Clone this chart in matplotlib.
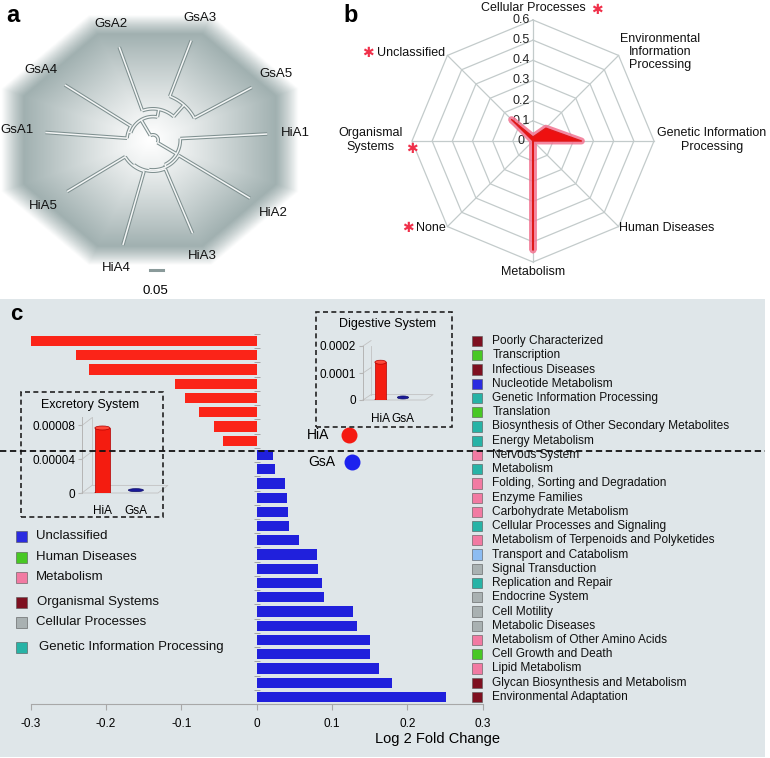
import numpy as np
import matplotlib.pyplot as plt
from matplotlib.patches import Rectangle, Ellipse
from matplotlib.lines import Line2D

plt.rcParams['font.family'] = ['Liberation Sans', 'DejaVu Sans']

W, H = 770, 758

# ---- panel a: tree (branch lengths, 0.05 = scale bar)
leaf_names = ['GsA1', 'GsA4', 'GsA2', 'GsA3', 'GsA5', 'HiA1', 'HiA2', 'HiA3', 'HiA4', 'HiA5']
leaf_angle = [176, 148, 110, 69, 28, 3, -31, -67, -106, -149]
leaf_dist = [0.415, 0.40, 0.38, 0.41, 0.43, 0.44, 0.435, 0.39, 0.42, 0.385]
tree_nodes = {
    'root': (0.02, ['gs', 'hi']),
    'gs': (0.09, ['g14', 'g235']),
    'g14': (0.10, ['GsA1', 'GsA4']),
    'g235': (0.12, ['GsA2', 'g35']),
    'g35': (0.18, ['GsA3', 'GsA5']),
    'hi': (0.105, ['HiA1', 'h2345']),
    'h2345': (0.115, ['HiA2', 'h345']),
    'h345': (0.12, ['HiA3', 'h45']),
    'h45': (0.125, ['HiA4', 'HiA5']),
}

# ---- panel b: radar
radar_cats = ['Cellular Processes', 'Environmental\nInformation\nProcessing',
              'Genetic Information\nProcessing', 'Human Diseases', 'Metabolism',
              'None', 'Organismal\nSystems', 'Unclassified']
radar_vals = [0.02, 0.09, 0.24, 0.0, 0.54, 0.0, 0.0, 0.15]
radar_sig = [True, False, False, False, False, True, True, True]
radar_ticks = [0, 0.1, 0.2, 0.3, 0.4, 0.5, 0.6]

# ---- panel c: log2 fold change
fc_names = ['Poorly Characterized', 'Transcription', 'Infectious Diseases',
            'Nucleotide Metabolism', 'Genetic Information Processing', 'Translation',
            'Biosynthesis of Other Secondary Metabolites', 'Energy Metabolism',
            'Nervous System', 'Metabolism', 'Folding, Sorting and Degradation',
            'Enzyme Families', 'Carbohydrate Metabolism', 'Cellular Processes and Signaling',
            'Metabolism of Terpenoids and Polyketides', 'Transport and Catabolism',
            'Signal Transduction', 'Replication and Repair', 'Endocrine System',
            'Cell Motility', 'Metabolic Diseases', 'Metabolism of Other Amino Acids',
            'Cell Growth and Death', 'Lipid Metabolism', 'Glycan Biosynthesis and Metabolism',
            'Environmental Adaptation']
fc_values = [-0.30, -0.24, -0.223, -0.108, -0.095, -0.077, -0.056, -0.045,
             0.022, 0.025, 0.038, 0.040, 0.041, 0.043, 0.056, 0.080, 0.081,
             0.087, 0.090, 0.128, 0.133, 0.150, 0.150, 0.163, 0.179, 0.251]
fc_group = ['org', 'hum', 'org', 'unc', 'gen', 'hum', 'gen', 'gen',
            'met', 'gen', 'met', 'met', 'met', 'gen', 'met', 'env',
            'cel', 'gen', 'cel', 'cel', 'cel', 'met', 'hum', 'met', 'org', 'org']

group_names = ['Unclassified', 'Human Diseases', 'Metabolism', 'Organismal Systems',
               'Cellular Processes', 'Genetic Information Processing']
group_keys = ['unc', 'hum', 'met', 'org', 'cel', 'gen']
group_colors = {'unc': '#2b2be0', 'hum': '#48c824', 'met': '#f27aa2', 'org': '#7e1020',
                'cel': '#a9b1b2', 'gen': '#27b3a6', 'env': '#8cbcf2'}

inset_groups = ['HiA', 'GsA']
excretory_vals = [0.000077, 0.000001]
digestive_vals = [0.00014, 0.000002]


def px_box(x0, y0, x1, y1):
    return [x0 / W, 1 - y1 / H, (x1 - x0) / W, (y1 - y0) / H]


def fpx(x, y):
    return x / W, 1 - y / H


fig = plt.figure(figsize=(W / 100, H / 100), dpi=100)

# panel c background
fig.add_artist(Rectangle(fpx(0, 757), 765 / W, 458 / H, transform=fig.transFigure,
                         facecolor='#dfe6e9', edgecolor='none', zorder=-5))

# ================= panel a
ax_a = fig.add_axes(px_box(0, 0, 345, 298))
cx, cy, sc = 153, 140, 260.0
ax_a.set_xlim(-cx / sc, (345 - cx) / sc)
ax_a.set_ylim((cy - 298) / sc, cy / sc)
ax_a.axis('off')

# soft octagon shading
gx = np.linspace(-cx / sc, (345 - cx) / sc, 400)
gy = np.linspace((cy - 298) / sc, cy / sc, 350)
XX, YY = np.meshgrid(gx, gy)
u = (XX + 0.0115) / 0.54
v = (YY - 0.0) / 0.455
nrm = np.maximum(np.maximum(np.abs(u), np.abs(v)), (np.abs(u) + np.abs(v)) / np.sqrt(2))
t = np.clip(nrm, 0, 1) ** 1.2
edge = np.array([0.58, 0.65, 0.65])
img = np.ones(XX.shape + (4,))
for k in range(3):
    img[..., k] = 1 - (1 - edge[k]) * t
img[..., 3] = np.clip((1.06 - nrm) / 0.16, 0, 1)
ax_a.imshow(img, extent=[gx[0], gx[-1], gy[0], gy[-1]], origin='lower',
            interpolation='bilinear', zorder=0)

leaf_idx = {n: i for i, n in enumerate(leaf_names)}


def node_angle(n):
    if n in leaf_idx:
        return leaf_angle[leaf_idx[n]]
    return np.mean([node_angle(c) for c in tree_nodes[n][1]])


def node_dist(n):
    if n in leaf_idx:
        return leaf_dist[leaf_idx[n]]
    return tree_nodes[n][0]


def branch(xs, ys):
    ax_a.plot(xs, ys, color='#7f9090', lw=2.6, solid_capstyle='butt', zorder=2)
    ax_a.plot(xs, ys, color='#f4f6f6', lw=1.1, solid_capstyle='butt', zorder=3)


for n, (r, kids) in tree_nodes.items():
    angs = [node_angle(c) for c in kids]
    th = np.radians(np.linspace(min(angs), max(angs), 40))
    branch(r * np.cos(th), r * np.sin(th))
    for c, a in zip(kids, angs):
        ar = np.radians(a)
        branch([r * np.cos(ar), node_dist(c) * np.cos(ar)],
               [r * np.sin(ar), node_dist(c) * np.sin(ar)])

for name, a, d in zip(leaf_names, leaf_angle, leaf_dist):
    ar = np.radians(a)
    rl = d + 0.085 + 0.025 * abs(np.cos(ar))
    ax_a.text(rl * np.cos(ar), rl * np.sin(ar), name, fontsize=9.5,
              ha='center', va='center', color='#111')

ax_a.plot([-0.0115, 0.0385], [-0.5, -0.5], color='#8a9a9a', lw=2.2)
ax_a.text(0.008, -0.581, '0.05', fontsize=9.5, ha='center', va='center')
fig.text(*fpx(13, 16), 'a', fontsize=17, fontweight='bold', ha='center', va='center')

# ================= panel b
ax_b = fig.add_axes(px_box(340, 0, 770, 298))
bx, by, bs = 533, 141, 201.7
ax_b.set_xlim((340 - bx) / bs, (770 - bx) / bs)
ax_b.set_ylim((by - 298) / bs, by / bs)
ax_b.axis('off')

th = np.radians(90 - 45 * np.arange(len(radar_cats)))
thc = np.append(th, th[0])
for rv in radar_ticks[1:]:
    ax_b.plot(rv * np.cos(thc), rv * np.sin(thc), color='#c3cbcb', lw=0.9, zorder=1)
for a in th:
    ax_b.plot([0, 0.6 * np.cos(a)], [0, 0.6 * np.sin(a)], color='#c3cbcb', lw=0.9, zorder=1)
for rv in radar_ticks:
    ax_b.text(-0.06, rv, f'{rv:g}', fontsize=9, ha='center', va='center', color='#222')

rv_arr = np.append(radar_vals, radar_vals[0])
rx = rv_arr * np.cos(thc)
ry = rv_arr * np.sin(thc)
ax_b.plot(rx, ry, color='#f27391', lw=5, alpha=0.85, solid_joinstyle='round', zorder=3)
ax_b.fill(rx, ry, color='#ee1010', lw=0, zorder=4)
ax_b.plot(rx, ry, color='#e01818', lw=1.0, zorder=4)

# label anchor (px), horizontal alignment, asterisk position
lab_px = [(533, 8), (660, 52), (712, 140), (667, 228), (533, 272), (431, 228),
          (403, 140), (411, 53)]
lab_ha = ['center'] * 6 + ['right', 'center']
star_px = [(597, 10), None, None, None, None, (408, 228), (412, 149), (368, 53)]
for name, (lx, ly), ha, sig, sp in zip(radar_cats, lab_px, lab_ha, radar_sig, star_px):
    ax_b.text((lx - bx) / bs, (by - ly) / bs, name, fontsize=9, ha=ha,
              multialignment='center', va='center', linespacing=1.12, color='#111')
    if sig and sp is not None:
        ax_b.text((sp[0] - bx) / bs, (by - sp[1]) / bs, '\u2731', fontsize=10,
                  family='DejaVu Sans', ha='center', va='center', color='#f0304a')
fig.text(*fpx(351, 15), 'b', fontsize=17, fontweight='bold', ha='center', va='center')

# ================= panel c
ax = fig.add_axes(px_box(30.5, 334, 482.7, 704))
ax.set_facecolor('none')
rows = np.arange(len(fc_names))
bar_cols = ['#fb2418' if val < 0 else '#2020dc' for val in fc_values]
ax.barh(rows, fc_values, height=0.72, color=bar_cols, zorder=3)
ax.set_xlim(-0.3, 0.3)
ax.set_ylim(len(fc_names) - 0.5, -0.5)
for s in ['top', 'right']:
    ax.spines[s].set_visible(False)
ax.spines['left'].set_position(('data', 0))
ax.spines['left'].set_color('none')
ax.spines['bottom'].set_color('#a8a8a8')
ax.set_yticks(np.arange(-0.5, len(fc_names), 1))
ax.set_yticklabels([])
ax.tick_params(axis='y', length=5, direction='inout', color='#999', width=0.6)
ax.set_xticks([-0.3, -0.2, -0.1, 0, 0.1, 0.2, 0.3])
ax.set_xticklabels(['-0.3', '-0.2', '-0.1', '0', '0.1', '0.2', '0.3'], fontsize=8.5)
ax.tick_params(axis='x', length=4, color='#a8a8a8', pad=6)
ax.set_xlabel('Log 2 Fold Change', fontsize=10.5)
ax.xaxis.set_label_coords(0.899, -0.075)

sq_cols = [group_colors[g] for g in fc_group]
ax.scatter(np.full(len(rows), 0.292), rows, marker='s', s=55, c=sq_cols,
           edgecolors='#555', linewidths=0.4, clip_on=False, zorder=4)
for i, name in enumerate(fc_names):
    ax.text(0.313, i, name, fontsize=8.6, va='center', ha='left', color='#111',
            clip_on=False)

ax.scatter([0.122], [6.6], s=110, color='#f51a12', clip_on=False, zorder=5)
ax.scatter([0.127], [8.5], s=110, color='#1c22ee', clip_on=False, zorder=5)
ax.text(0.097, 6.6, 'HiA', fontsize=10, ha='right', va='center')
ax.text(0.105, 8.5, 'GsA', fontsize=10, ha='right', va='center')

fig.add_artist(Line2D([0, 765 / W], [1 - 451 / H] * 2, transform=fig.transFigure,
                      color='#111', lw=1.3, ls=(0, (3.5, 2)), zorder=10))
fig.text(*fpx(16, 315), 'c', fontsize=16, fontweight='bold', ha='center', va='center')

# left legend
leg_y = [536, 557, 577, 602, 622, 647]
leg_x = [36, 36, 36, 37, 36, 39]
for name, key, ly, lx in zip(group_names, group_keys, leg_y, leg_x):
    fig.add_artist(Rectangle(fpx(16, ly + 5.5), 11 / W, 11 / H, transform=fig.transFigure,
                             facecolor=group_colors[key], edgecolor='#555', lw=0.4))
    fig.text(*fpx(lx, ly), name, fontsize=9.5, va='center', ha='left', color='#111')


# insets
def bar_inset(box, frame, title, title_xy, xlim, ymax, yticks, ylabels, vals, bw):
    fig.add_artist(Rectangle(fpx(frame[0], frame[3]), (frame[2] - frame[0]) / W,
                             (frame[3] - frame[1]) / H, transform=fig.transFigure,
                             facecolor='none', edgecolor='#222', lw=1.2,
                             ls=(0, (3, 2)), zorder=6))
    fig.text(*fpx(*title_xy), title, fontsize=9, ha='center', va='center')
    ia = fig.add_axes(px_box(*box))
    ia.set_facecolor('none')
    ia.set_xlim(*xlim)
    ia.set_ylim(0, ymax)
    for s in ['top', 'right', 'bottom']:
        ia.spines[s].set_visible(False)
    ia.spines['left'].set_color('#b5b5b5')
    ia.spines['left'].set_linewidth(0.7)
    ia.set_yticks(yticks)
    ia.set_yticklabels(ylabels, fontsize=8.5)
    ia.set_xticks([0, 1])
    ia.set_xticklabels(inset_groups, fontsize=8.5)
    ia.tick_params(axis='y', length=3, color='#b5b5b5', pad=2)
    ia.tick_params(axis='x', length=0, pad=9)
    hpx = (box[3] - box[1])
    per_px = ymax / hpx
    # 3d frame
    dxf, dyf = 0.13, 0.10
    gl = dict(transform=ia.transAxes, color='#c2c2c2', lw=0.6, clip_on=False)
    ia.plot([dxf, dxf], [dyf, 1], **gl)
    ia.plot([0, 1, 1 + dxf, dxf, 0], [0, 0, dyf, dyf, 0], **gl)
    for yt in yticks[1:]:
        fy = yt / ymax
        ia.plot([0, dxf], [fy, fy + dyf], **gl)
    ia.bar([0], [vals[0]], width=bw, color='#f41c10', edgecolor='#b00000', lw=0.5,
           zorder=3)
    ia.add_patch(Ellipse((0, vals[0]), bw, 4 * per_px, facecolor='#ff4a3a',
                         edgecolor='#b00000', lw=0.5, zorder=4))
    ia.add_patch(Ellipse((0, 0), bw, 4 * per_px, facecolor='#f41c10',
                         edgecolor='#b00000', lw=0.5, zorder=2))
    ia.add_patch(Ellipse((1, vals[1] + 2 * per_px), bw, 3 * per_px, facecolor='#1a1a9a',
                         edgecolor='#10106a', lw=0.5, zorder=4))


bar_inset((82, 417, 158, 493), (21, 392, 163, 517), 'Excretory System', (90, 405),
          (-0.61, 1.66), 0.00009, [0, 0.00004, 0.00008], ['0', '0.00004', '0.00008'],
          excretory_vals, 0.45)
bar_inset((363, 346, 425, 400), (316, 312, 452, 427), 'Digestive System', (388, 324),
          (-0.78, 1.98), 0.0002, [0, 0.0001, 0.0002], ['0', '0.0001', '0.0002'],
          digestive_vals, 0.5)

fig.savefig('out.png', dpi=100)
